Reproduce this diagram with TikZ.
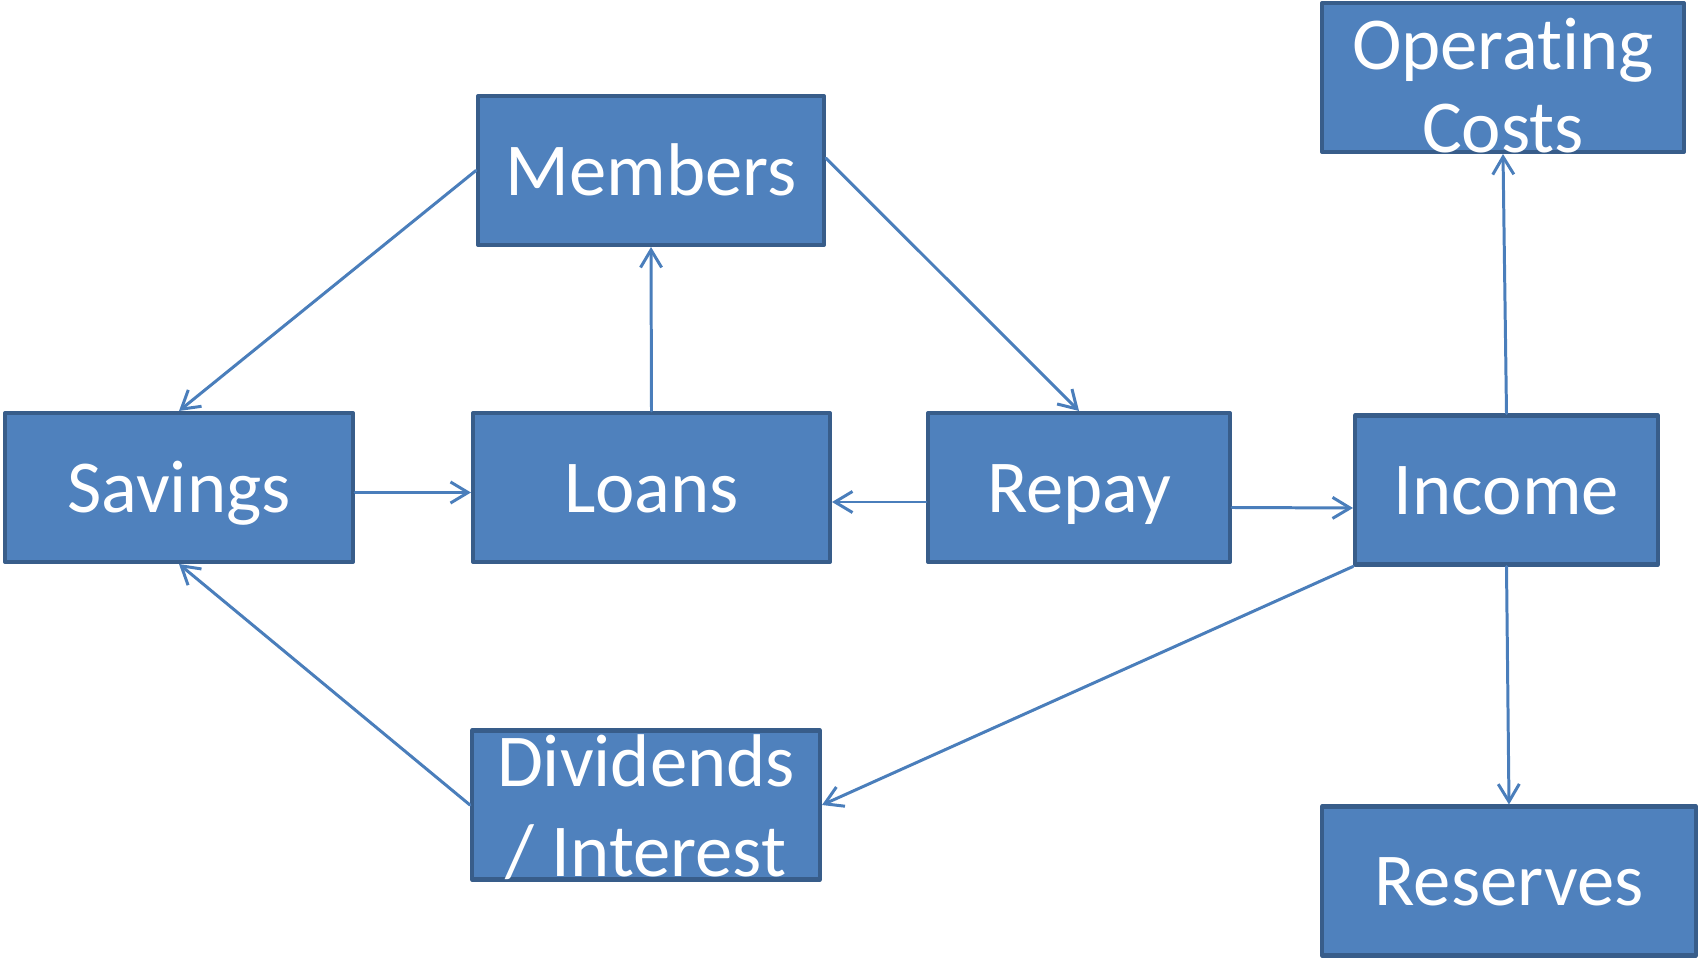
\documentclass[tikz,border=0pt]{standalone}
\usepackage{fontspec}
\setmainfont{Carlito}[Ligatures=NoCommon]
\usetikzlibrary{arrows.meta}
\definecolor{boxfill}{HTML}{4F81BD}
\definecolor{boxline}{HTML}{385D8A}
\definecolor{arrline}{HTML}{4A7EBB}
\tikzset{
	blk/.style={draw=boxline, fill=boxfill, line width=2.3pt, text=white, inner sep=0pt,
		minimum height=2.98cm, text height=28pt, text depth=0pt},
	lbl/.style={text=white, align=center, inner sep=0pt},
	link/.style={draw=arrline, line width=1.7pt, ->}
}
\begin{document}
\begin{tikzpicture}[x=0.02cm, y=-0.02cm, >={Straight Barb[length=10pt,width=12pt]}, font=\fontsize{42.5}{50}\selectfont, line join=round, line cap=round]
				\def\u{0.02cm} % one pixel
				\useasboundingbox (0,0) rectangle (1698,959);
				% boxes
				\node[blk, minimum width=346*\u] (mem) at (651,170.5) {Members};
				\node[blk, minimum width=348*\u] (sav) at (179,487.5) {Savings};
				\node[blk, minimum width=357*\u] (loans) at (651.5,487.5) {Loans};
				\node[blk, minimum width=302*\u] (rep) at (1079,487.5) {Repay};
				\node[blk, minimum width=303*\u] (inc) at (1506.5,490) {Income};
				\node[blk, minimum width=362*\u] (ops) at (1503,77.5) {};
				\node[blk, minimum width=348*\u] (div) at (646,805) {};
				\node[blk, minimum width=374*\u] (res) at (1509,881) {Reserves};
				\node[lbl, font=\fontsize{42.5}{47}\selectfont] (opstxt) at ([yshift=-0.16cm]ops.center) {Operating\\Costs};
				\node[lbl, font=\fontsize{42.5}{51}\selectfont] (divtxt) at ([yshift=-0.04cm]div.center) {Dividends\\/ Interest};
				% flows
				\draw[link] (mem.west) -- (sav.north);
				\draw[link] (mem.4) -- (rep.north);
				\draw[link] (loans.north) -- (mem.south);
				\draw[link] ([yshift=-0.1cm]sav.east) -- ([yshift=-0.1cm]loans.west);
				\draw[link] ([yshift=-0.29cm]rep.west) -- ([yshift=-0.29cm]loans.east);
				\draw[link] ([yshift=-0.4cm]rep.east) -- ([yshift=-0.36cm]inc.west);
				\draw[link] (inc.north) -- (ops.south);
				\draw[link] (inc.south) -- (res.north);
				\draw[link] (inc.south west) -- (div.east);
				\draw[link] (div.west) -- (sav.south);
\end{tikzpicture}
\end{document}
